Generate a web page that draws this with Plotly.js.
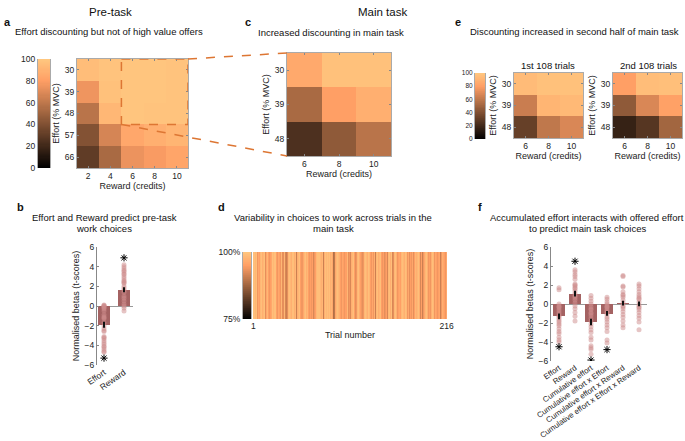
<!DOCTYPE html>
<html><head><meta charset="utf-8">
<script src="https://cdn.plot.ly/plotly-3.0.1.min.js"></script>
<style>html,body{margin:0;padding:0;background:#fff}#chart{width:685px;height:441px}</style>
</head><body><div id="chart"></div>
<script>
// ---------- data ----------
const rewardA = [2, 4, 6, 8, 10];
const effortA = ['30', '39', '48', '57', '66'];
const choiceA = [
  [95, 98, 99, 99, 98],
  [75, 97, 99, 99, 98],
  [58, 92, 99, 98, 98],
  [41, 67, 84, 88, 91],
  [30, 53, 74, 78, 83]
];
const rewardC = [6, 8, 10];
const effortC = ['30', '39', '48'];
const choiceC = [[85, 97, 97], [53, 80, 88], [24, 45, 58]];
const choiceE1 = [[94, 97, 97], [63, 91, 93], [32, 60, 68]];
const choiceE2 = [[80, 95, 96], [45, 68, 81], [17, 27, 51]];
const trialChoice = [
  99,99,98,99,95,94,96,95,98,99,97,98,
  99,93,92,96,98,95,94,95,96,99,98,99,
  98,99,95,94,96,95,94,98,93,93,97,98,
  92,91,93,98,99,98,97,99,98,99,97,98,
  91,97,98,99,95,94,95,94,96,98,99,97,
  98,95,94,96,95,94,95,92,94,95,98,99,
  99,98,99,98,97,98,91,97,99,98,99,99,
  98,99,97,98,96,89,90,96,98,99,99,98,
  97,95,94,96,95,94,95,96,95,98,93,94,
  92,97,98,99,94,95,93,94,98,99,97,95,
  94,93,95,94,98,99,98,97,99,98,95,94,
  95,96,94,97,91,98,99,97,98,99,98,95,
  94,95,93,94,95,92,98,99,98,97,99,92,
  93,98,99,97,94,95,94,96,95,98,99,98,
  97,99,98,95,94,96,93,95,94,96,93,95,
  98,99,97,98,99,97,92,95,91,94,96,92,
  98,99,97,94,95,94,97,99,98,95,94,96,
  95,94,95,96,91,94,97,98,96,95,94,96
];
const trialTicks = [1, 216];

const catsB = ['Effort', 'Reward'];
const meanB = [-1.9, 1.65];
const semB = [0.3, 0.25];
const starB = [-5.3, 4.9];
const dotsB_Effort = [0.1,0.05,0.0,-0.05,-0.1,-0.2,-0.3,-0.5,-0.9,-1.1,-1.2,-1.3,-1.7,-2.0,-2.3,-2.5,-2.6,-3.1,-3.2,-3.3,-3.5,-3.7,-3.9,-4.1,-4.2,-4.4,-4.6,-4.7];
const dotsB_Reward = [-0.5,-0.2,0.0,0.2,0.5,0.8,1.0,1.4,1.6,1.8,2.0,2.3,2.4,2.5,2.6,2.8,3.0,3.2,3.3,3.5,3.6,3.8,4.0,4.2];

const catsF = ['Effort', 'Reward', 'Cumulative effort', 'Cumulative effort x Effort', 'Cumulative effort x Reward', 'Cumulative effort x Effort x Reward'];
const meanF = [-1.3, 1.1, -1.9, -1.0, 0.1, 0.0];
const semF = [0.3, 0.3, 0.35, 0.25, 0.25, 0.25];
const starF = [-4.5, 4.5, -5.9, -4.8, null, null];
const dotsF_Effort = [1.7,1.5,0.0,-0.2,-0.3,-0.4,-0.6,-0.8,-1.0,-1.2,-1.3,-1.5,-1.7,-1.9,-2.1,-2.3,-2.6,-2.9,-3.1,-3.5,-3.8,-4.0];
const dotsF_Reward = [-1.8,-1.3,-0.9,-0.5,-0.2,0.1,0.4,0.6,0.8,0.9,1.1,1.4,1.6,1.7,1.9,2.0,2.1,2.6,2.9,3.1,3.4,3.6];
const dotsF_Cum = [0.9,0.6,0.3,0.0,-0.3,-0.5,-0.6,-0.9,-1.0,-1.2,-1.5,-1.8,-2.1,-2.4,-2.7,-3.0,-3.5,-3.8,-4.4,-4.6,-4.8,-5.3];
const dotsF_CxE = [0.7,0.5,0.2,0.0,-0.2,-0.3,-0.4,-0.6,-0.8,-0.9,-1.1,-1.4,-1.6,-1.9,-2.2,-2.5,-2.9,-3.8,-4.1];
const dotsF_CxR = [3.0,2.9,1.9,1.8,1.3,1.0,0.9,0.7,0.4,0.1,-0.2,-0.3,-0.5,-0.8,-1.1,-1.4,-1.8,-2.2,-2.5];
const dotsF_CxExR = [2.1,1.9,1.6,1.3,1.0,0.8,0.6,0.5,0.2,-0.1,-0.3,-0.4,-0.6,-0.9,-1.2,-1.5,-1.9,-2.7];
const dotsF = [dotsF_Effort, dotsF_Reward, dotsF_Cum, dotsF_CxE, dotsF_CxR, dotsF_CxExR];

// ---------- styling helpers ----------
const W = 685, H = 441;
const FONT = 'Liberation Sans, Arial, sans-serif';
const TXT = '#222';
function dx(a, b) { return [a / W, b / W]; }
function dy(top, bottom) { return [1 - bottom / H, 1 - top / H]; }
function copperColor(t) {
  const r = Math.min(255, 1.25 * t * 255), g = 0.7812 * t * 255, b = 0.4975 * t * 255;
  return 'rgb(' + Math.round(r) + ',' + Math.round(g) + ',' + Math.round(b) + ')';
}
const copper = [];
for (let i = 0; i <= 20; i++) copper.push([i / 20, copperColor(i / 20)]);

const DOM = {
  a: { x: dx(77, 188), y: dy(59, 168) },
  c: { x: dx(287, 391), y: dy(53, 156) },
  e1: { x: dx(514, 583), y: dy(73, 138) },
  e2: { x: dx(613, 682), y: dy(73, 138) },
  b: { x: dx(97, 133), y: dy(247, 365) },
  d: { x: dx(253, 447), y: dy(252, 319) },
  f: { x: dx(551, 647), y: dy(247, 361) },
  cba: { x: dx(38, 50), y: dy(59, 168) },
  cbe: { x: dx(475, 485), y: dy(73, 139) },
  cbd: { x: dx(243, 251), y: dy(252, 319) }
};

const tickFont = { family: FONT, size: 8.5, color: TXT };
const titleFont = { family: FONT, size: 9, color: TXT };

function hmX(dom, range, tv, anc) {
  return { domain: dom, anchor: anc, range: range, tickvals: tv, showline: true, mirror: 'ticks', linecolor: '#aaa', linewidth: 1,
    ticks: 'inside', ticklen: 2, tickcolor: '#888', tickfont: tickFont, showgrid: false, zeroline: false, automargin: false,
    title: { text: 'Reward (credits)', font: titleFont, standoff: 2 } };
}
function hmY(dom, n, anc) {
  return { domain: dom, anchor: anc, type: 'category', range: [n - 0.5, -0.5], showline: true, mirror: 'ticks', linecolor: '#aaa', linewidth: 1,
    ticks: 'inside', ticklen: 2, tickcolor: '#888', tickfont: tickFont, showgrid: false, zeroline: false, automargin: false,
    title: { text: 'Effort (% MVC)', font: titleFont, standoff: 3 } };
}
function cbAxes(dom, lo, hi, tv, tt, fs, xa, ya) {
  return [
    { domain: dom.x, anchor: ya, visible: false, range: [-0.5, 0.5], fixedrange: true },
    { domain: dom.y, anchor: xa, range: [lo, hi], tickvals: tv, ticktext: tt, showline: true, mirror: true, linecolor: '#aaa', linewidth: 1,
      ticks: '', tickfont: { family: FONT, size: fs, color: TXT }, showgrid: false, zeroline: false, automargin: false }
  ];
}
function gradient(lo, hi, n) {
  const y = [], z = [];
  for (let i = 0; i <= n; i++) { const v = lo + (hi - lo) * i / n; y.push(v); z.push([v]); }
  return { y: y, z: z };
}

const traces = [];
function heat(x, y, z, xa, ya, zmin, zmax) {
  traces.push({ type: 'heatmap', x: x, y: y, z: z, xaxis: xa, yaxis: ya, colorscale: copper, zmin: zmin, zmax: zmax,
    showscale: false, hoverinfo: 'skip' });
}
heat(rewardA, effortA, choiceA, 'x', 'y', 0, 100);
heat(rewardC, effortC, choiceC, 'x2', 'y2', 0, 100);
heat(rewardC, effortC, choiceE1, 'x3', 'y3', 0, 100);
heat(rewardC, effortC, choiceE2, 'x4', 'y4', 0, 100);
const trialIdx = trialChoice.map((v, i) => i + 1);
heat(trialIdx, ['p'], [trialChoice], 'x6', 'y6', 75, 100);
const g1 = gradient(0, 100, 100), g2 = gradient(75, 100, 100);
heat([0], g1.y, g1.z, 'x8', 'y8', 0, 100);
heat([0], g1.y, g1.z, 'x9', 'y9', 0, 100);
heat([0], g2.y, g2.z, 'x10', 'y10', 75, 100);

const BAR = '#a46262', DOT = 'rgba(205,140,140,0.5)';
function barPanel(cats, means, sems, stars, dots, xa, ya, bw) {
  traces.push({ type: 'bar', x: cats, y: means, xaxis: xa, yaxis: ya, width: bw, marker: { color: BAR, line: { width: 0 } }, hoverinfo: 'skip' });
  const dx_ = [], dy_ = [];
  dots.forEach((arr, i) => arr.forEach(v => { dx_.push(cats[i]); dy_.push(v); }));
  traces.push({ type: 'scatter', mode: 'markers', x: dx_, y: dy_, xaxis: xa, yaxis: ya,
    marker: { size: 5, color: DOT, line: { width: 0 } }, hoverinfo: 'skip' });
  traces.push({ type: 'scatter', mode: 'markers', x: cats, y: means, xaxis: xa, yaxis: ya, marker: { size: 1, color: 'rgba(0,0,0,0)' },
    error_y: { type: 'data', array: sems, color: '#111', thickness: 2, width: 0 }, hoverinfo: 'skip' });
  traces.push({ type: 'scatter', mode: 'markers', x: cats, y: stars, xaxis: xa, yaxis: ya,
    marker: { symbol: 'asterisk-open', size: 6, color: '#000', line: { width: 1, color: '#000' } }, hoverinfo: 'skip' });
}
barPanel(catsB, meanB, semB, starB, [dotsB_Effort, dotsB_Reward], 'x5', 'y5', 0.6);
barPanel(catsF, meanF, semF, starF, dotsF, 'x7', 'y7', 0.75);

function barX(dom, range, anc, fs) {
  return { domain: dom, anchor: anc, type: 'category', range: range, showline: false, ticks: '', tickangle: -35,
    tickfont: { family: FONT, size: fs, color: TXT }, showgrid: false, zeroline: false, automargin: false };
}
function barY(dom, anc) {
  return { domain: dom, anchor: anc, range: [-6, 6], tickvals: [-6, -4, -2, 0, 2, 4, 6], showline: true, linecolor: '#888', linewidth: 1,
    ticks: 'inside', ticklen: 2, tickcolor: '#888', tickfont: tickFont, showgrid: false, zeroline: true, zerolinecolor: '#999',
    zerolinewidth: 1, automargin: false, title: { text: 'Normalised betas (t-scores)', font: titleFont, standoff: 3 } };
}

const cbA = cbAxes(DOM.cba, 0, 100, [0, 20, 40, 60, 80, 100], ['0', '20', '40', '60', '80', '100'], 8.5, 'x8', 'y8');
const cbE = cbAxes(DOM.cbe, 0, 100, [0, 20, 40, 60, 80, 100], ['0', '20', '40', '60', '80', '100'], 6.5, 'x9', 'y9');
const cbD = cbAxes(DOM.cbd, 75, 100, [75, 100], ['75%', '100%'], 8.5, 'x10', 'y10');

const layout = {
  width: W, height: H, margin: { l: 0, r: 0, t: 0, b: 0 }, paper_bgcolor: '#fff', plot_bgcolor: '#fff',
  showlegend: false, font: { family: FONT, color: TXT }, bargap: 0,
  xaxis: hmX(DOM.a.x, [1, 11], rewardA, 'y'), yaxis: hmY(DOM.a.y, 5, 'x'),
  xaxis2: hmX(DOM.c.x, [5, 11], rewardC, 'y2'), yaxis2: hmY(DOM.c.y, 3, 'x2'),
  xaxis3: hmX(DOM.e1.x, [5, 11], rewardC, 'y3'), yaxis3: hmY(DOM.e1.y, 3, 'x3'),
  xaxis4: hmX(DOM.e2.x, [5, 11], rewardC, 'y4'), yaxis4: hmY(DOM.e2.y, 3, 'x4'),
  xaxis5: barX(DOM.b.x, [-0.35, 1.45], 'y5', 8.5), yaxis5: barY(DOM.b.y, 'x5'),
  xaxis6: { domain: DOM.d.x, anchor: 'y6', range: [0.5, 216.5], tickvals: trialTicks, ticks: '', showline: false, showgrid: false, zeroline: false,
    tickfont: tickFont, automargin: false, title: { text: 'Trial number', font: titleFont, standoff: 2 } },
  yaxis6: { domain: DOM.d.y, anchor: 'x6', visible: false, type: 'category' },
  xaxis7: barX(DOM.f.x, [-0.5, 5.5], 'y7', 7.8), yaxis7: barY(DOM.f.y, 'x7'),
  xaxis8: cbA[0], yaxis8: cbA[1],
  xaxis9: cbE[0], yaxis9: cbE[1],
  xaxis10: cbD[0], yaxis10: cbD[1]
};

// dashed zoom box + connectors
const OR = '#dd7633';
const aw = DOM.a.x[1] - DOM.a.x[0], ah = DOM.a.y[1] - DOM.a.y[0];
const boxLeft = DOM.a.x[0] + aw * (5 - 1) / 10;
const boxBottom = DOM.a.y[1] - ah * 3 / 5;
layout.shapes = [
  { type: 'rect', xref: 'x', yref: 'y', x0: 5, x1: 11, y0: -0.5, y1: 2.5, line: { color: OR, width: 1.5, dash: 'dash' } },
  { type: 'line', xref: 'paper', yref: 'paper', x0: DOM.a.x[1], y0: DOM.a.y[1], x1: DOM.c.x[0], y1: DOM.c.y[1], line: { color: OR, width: 1.5, dash: 'dash' } },
  { type: 'line', xref: 'paper', yref: 'paper', x0: boxLeft, y0: boxBottom, x1: DOM.c.x[0], y1: DOM.c.y[0], line: { color: OR, width: 1.5, dash: 'dash' } }
];

function ann(text, px, py, size, bold, anchor) {
  return { text: bold ? '<b>' + text + '</b>' : text, x: px / W, y: 1 - py / H, xref: 'paper', yref: 'paper', showarrow: false,
    xanchor: anchor || 'center', yanchor: 'middle', font: { family: FONT, size: size, color: '#111' } };
}
layout.annotations = [
  ann('Pre-task', 110, 12, 11.5),
  ann('Main task', 382, 12, 11.5),
  ann('a', 2, 22, 11, true, 'left'),
  ann('Effort discounting but not of high value offers', 109, 31, 9.5),
  ann('c', 243, 22, 11, true, 'left'),
  ann('Increased discounting in main task', 331, 32, 9.5),
  ann('e', 453, 22, 11, true, 'left'),
  ann('Discounting increased in second half of main task', 574, 31, 9.5),
  ann('1st 108 trials', 548, 65, 9.5),
  ann('2nd 108 trials', 648, 65, 9.5),
  ann('b', 15, 207, 11, true, 'left'),
  ann('Effort and Reward predict pre-task', 104, 217, 9.5),
  ann('work choices', 104, 228, 9.5),
  ann('d', 216, 207, 11, true, 'left'),
  ann('Variability in choices to work across trials in the', 333, 218, 9.5),
  ann('main task', 333, 229, 9.5),
  ann('f', 476, 207, 11, true, 'left'),
  ann('Accumulated effort interacts with offered effort', 587, 217, 9.5),
  ann('to predict main task choices', 587, 228, 9.5)
];

Plotly.newPlot('chart', traces, layout, { staticPlot: true, displayModeBar: false });
</script></body></html>
